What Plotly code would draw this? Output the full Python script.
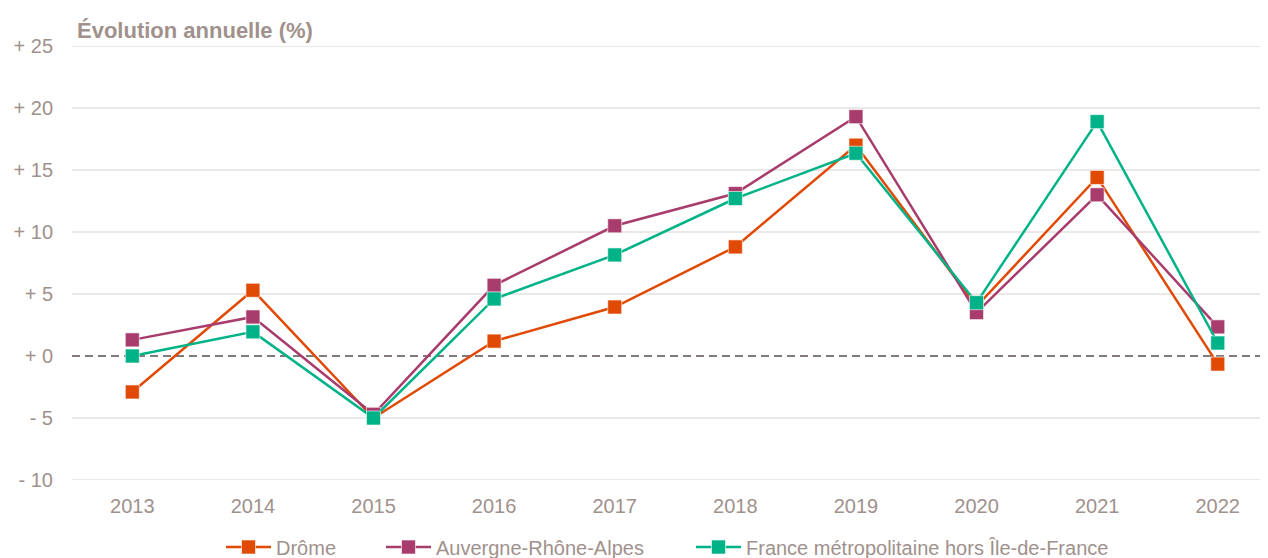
import plotly.graph_objects as go

years = ["2013", "2014", "2015", "2016", "2017", "2018", "2019", "2020", "2021", "2022"]
drome = [-2.9, 5.3, -5.0, 1.2, 3.95, 8.8, 17.0, 4.0, 14.4, -0.65]
auvergne = [1.3, 3.15, -4.7, 5.7, 10.5, 13.1, 19.3, 3.5, 13.0, 2.35]
france = [0.0, 1.95, -5.0, 4.6, 8.15, 12.7, 16.35, 4.3, 18.9, 1.05]

series_names = ["Drôme", "Auvergne-Rhône-Alpes", "France métropolitaine hors Île-de-France"]
series_colors = ["#E04A04", "#A83C6C", "#00B288"]
legend_ids = ["legend", "legend2", "legend3"]
legend_x = [213 / 1268, 373 / 1268, 683 / 1268]

y_ticks = [-10, -5, 0, 5, 10, 15, 20, 25]
y_ticktext = [("+ " if v >= 0 else "- ") + str(abs(v)) for v in y_ticks]

text_color = "#A0918C"
grid_color = "#E6E1E1"
font_family = "Liberation Sans, Arial, sans-serif"

fig = go.Figure()

for name, vals, col, lg in zip(series_names, [drome, auvergne, france], series_colors, legend_ids):
    fig.add_trace(go.Scatter(
        x=years, y=vals, name=name, mode="lines+markers", legend=lg,
        line=dict(color=col, width=2.5),
        marker=dict(symbol="square", size=14, color=col,
                    line=dict(color="rgba(255,255,255,0.6)", width=1)),
    ))

# horizontal gridlines (below traces), zero line dashed
for v in y_ticks:
    if v == 0:
        continue
    fig.add_hline(y=v, line=dict(color=grid_color, width=1.5), layer="below")
fig.add_hline(y=0, line=dict(color="#595050", width=1.5, dash="8px,5px"), layer="below")

legend_common = dict(orientation="h", xanchor="left", xref="container", yref="container",
                     y=1 - 539 / 558, yanchor="middle", itemwidth=45,
                     bgcolor="rgba(0,0,0,0)",
                     font=dict(family=font_family, size=20, color=text_color))

fig.update_layout(
    width=1268, height=558,
    margin=dict(l=64, r=0, t=38, b=86),
    paper_bgcolor="white", plot_bgcolor="white",
    font=dict(family=font_family, size=20, color=text_color),
    title=dict(text="<b>Évolution annuelle (%)</b>", x=69 / 1268, xanchor="left",
               y=1 - 22 / 558, yanchor="middle", xref="container", yref="container",
               font=dict(family=font_family, size=22, color=text_color)),
    showlegend=True,
    legend=dict(x=legend_x[0], **legend_common),
    legend2=dict(x=legend_x[1], **legend_common),
    legend3=dict(x=legend_x[2], **legend_common),
    xaxis=dict(type="category", range=[-0.5, 9.483], showgrid=False, showline=False,
               zeroline=False, ticks="", ticklabelstandoff=12,
               tickfont=dict(size=20, color=text_color)),
    yaxis=dict(range=[-10, 25], tickvals=y_ticks, ticktext=y_ticktext,
               showgrid=False, zeroline=False,
               showline=False, ticks="", ticklabelstandoff=18,
               tickfont=dict(size=20, color=text_color)),
)

fig.write_html("out.html")
